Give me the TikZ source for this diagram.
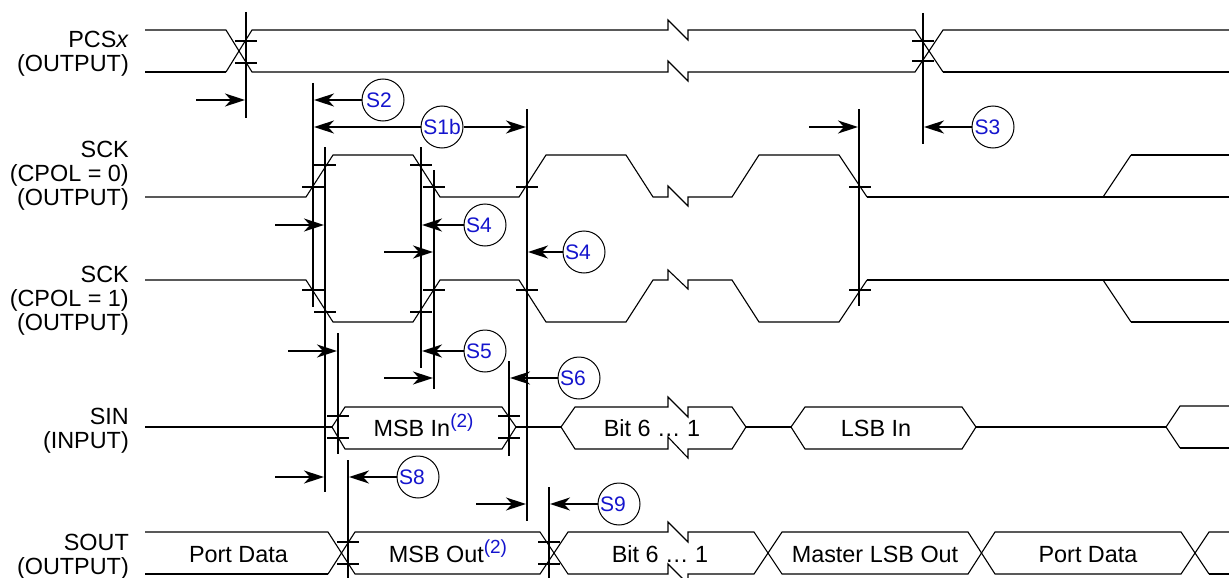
\documentclass[tikz,border=0pt]{standalone}
\usepackage{fontspec}
\setmainfont{Liberation Sans}
\usepackage{xcolor}
\usetikzlibrary{arrows.meta}
\definecolor{tagblue}{RGB}{20,20,205}
\newcommand{\sigfont}{\fontsize{23.4}{24}\selectfont}
\newcommand{\noteref}{\raisebox{9pt}{\fontsize{19}{19}\selectfont\color{tagblue}(2)}}

\begin{document}
\begin{tikzpicture}[x=1pt, y=-1pt, >={Stealth[length=20pt, width=13pt, inset=6pt]}]
    \tikzset{
        wave/.style={draw, line width=1.1pt, line join=miter},
        wavethick/.style={draw, line width=1.7pt},
        marker/.style={draw, line width=1.7pt},
        dimline/.style={draw, ->, line width=1.7pt},
        tagnode/.style={draw, circle, line width=1pt, minimum size=42pt, inner sep=0pt, text=tagblue, fill=white, font=\fontsize{21}{21}\selectfont},
        signame/.style={align=right, anchor=north east, inner sep=0pt, font=\sigfont},
        datatext/.style={anchor=base, inner sep=0pt, font=\sigfont}
    }
    \useasboundingbox (0,0) rectangle (1229,578);
    \clip (0,0) rectangle (1229,578);

    % signal names
    \node[signame] (pcsname) at (129,31) {PCS\textit{x}\\(OUTPUT)};
    \node[signame] (sckaname) at (129,141) {SCK\\(CPOL = 0)\\(OUTPUT)};
    \node[signame] (sckbname) at (129,266) {SCK\\(CPOL = 1)\\(OUTPUT)};
    \node[signame] (sinname) at (129,408) {SIN\\(INPUT)};
    \node[signame] (soutname) at (129,534) {SOUT\\(OUTPUT)};

    % PCS wave
    \draw[wave] (145,30) -- (226,30) -- (252,72) -- (668,72) -- (668,61) -- (688,81) -- (688,72) -- (915,72) -- (943,30) -- (1229,30);
    \draw[wave] (226,72) -- (252,30) -- (668,30) -- (668,20) -- (688,40) -- (688,30) -- (915,30) -- (943,72);
    \draw[wavethick] (145,72) -- (226,72);
    \draw[wavethick] (943,72) -- (1229,72);

    % SCK wave, CPOL = 0
    \draw[wave] (145,197) -- (306,197) -- (333,155) -- (413,155) -- (440,197) -- (519,197) -- (546,155) -- (626,155) -- (653,197) -- (668,197) -- (668,186) -- (688,206) -- (688,197) -- (732,197) -- (759,155) -- (839,155) -- (867,197);
    \draw[wavethick] (867,197) -- (1229,197);
    \draw[wave] (1103,197) -- (1131,155);
    \draw[wavethick] (1131,155) -- (1229,155);

    % SCK wave, CPOL = 1
    \draw[wave] (145,280) -- (306,280) -- (333,322) -- (413,322) -- (440,280) -- (519,280) -- (546,322) -- (626,322) -- (653,280) -- (668,280) -- (668,270) -- (688,289) -- (688,280) -- (732,280) -- (759,322) -- (839,322) -- (867,280);
    \draw[wavethick] (867,280) -- (1229,280);
    \draw[wave] (1103,280) -- (1131,322);
    \draw[wavethick] (1131,322) -- (1229,322);

    % SIN wave
    \draw[wavethick] (145,427) -- (332,427);
    \draw[wave] (332,427) -- (345,407) -- (502,407) -- (516,427) -- (502,449) -- (345,449) -- cycle;
    \draw[wavethick] (516,427) -- (561,427);
    \draw[wave] (668,407) -- (575,407) -- (561,427) -- (575,449) -- (668,449) -- (668,437) -- (688,458) -- (688,449) -- (732,449) -- (746,427) -- (732,407) -- (688,407) -- (688,417) -- (668,397) -- cycle;
    \draw[wavethick] (746,427) -- (791,427);
    \draw[wave] (791,427) -- (805,407) -- (962,407) -- (976,427) -- (962,449) -- (805,449) -- cycle;
    \draw[wavethick] (976,427) -- (1166,427);
    \draw[wave] (1229,406) -- (1180,406) -- (1166,427) -- (1180,448);
    \draw[wavethick] (1180,448) -- (1229,448);

    % SOUT wave
    \draw[wave] (145,532) -- (328,532) -- (355,574) -- (540,574) -- (568,532) -- (668,532) -- (668,522) -- (688,542) -- (688,532) -- (754,532) -- (782,574) -- (968,574) -- (995,532) -- (1181,532) -- (1209,574);
    \draw[wavethick] (145,574) -- (328,574);
    \draw[wave] (328,574) -- (355,532) -- (540,532) -- (568,574) -- (668,574) -- (668,564) -- (688,584) -- (688,574) -- (754,574) -- (782,532) -- (968,532) -- (995,574) -- (1181,574) -- (1209,532) -- (1229,532);
    \draw[wavethick] (1209,574) -- (1229,574);

    % data labels
    \node[datatext] (msbin) at (423.5,436) {MSB In\noteref};
    \node[datatext] (bitin) at (652,436) {Bit 6 … 1};
    \node[datatext] (lsbin) at (876,436) {LSB In};
    \node[datatext] (portdataa) at (238.5,562) {Port Data};
    \node[datatext] (msbout) at (448,562) {MSB Out\noteref};
    \node[datatext] (bitout) at (660,562) {Bit 6 … 1};
    \node[datatext] (lsbout) at (875,562) {Master LSB Out};
    \node[datatext] (portdatab) at (1088,562) {Port Data};

    % vertical timing lines
    \foreach \x/\ya/\yb in {246/12/118, 313/83/307, 325/147/492, 338/333/454, 348/460/578, 421/147/368,
                            434/170/389, 509/361/456, 527/109/521, 549/487/578, 859/109/306, 923/13/144}
        \draw[marker] (\x,\ya) -- (\x,\yb);

    % threshold ticks
    \foreach \xa/\xb/\y in {235/257/41, 235/257/63, 912/934/41, 912/934/61,
                            313/336/165, 302/324/187, 410/432/165, 423/445/187, 516/538/187, 849/871/187,
                            302/324/290, 423/445/290, 516/538/290, 849/871/290, 314/336/312, 410/432/312,
                            327/349/416, 327/349/438, 498/520/416, 498/520/438,
                            337/359/542, 337/359/564, 538/560/542, 538/560/564}
        \draw[marker] (\xa,\y) -- (\xb,\y);

    % free arrows
    \foreach \n/\xa/\xb/\y in {a/196/245/100, b/275/324/225, c/384/433/252, d/288/337/351, e/384/433/378,
                               f/275/324/477, g/476/526/504, h/809/858/127}{
        \coordinate (from\n) at (\xa,\y);
        \coordinate (to\n) at (\xb,\y);
        \draw[dimline] (from\n) -- (to\n);
    }

    % tags with their arrows
    \node[tagnode] (stwo) at (383,100) {S2\kern8pt};
    \node[tagnode] (soneb) at (442,127) {S1b};
    \node[tagnode] (sthree) at (993,127) {S3\kern11pt};
    \node[tagnode] (sfoura) at (485,225) {S4\kern12pt};
    \node[tagnode] (sfourb) at (584,252) {S4\kern12pt};
    \node[tagnode] (sfive) at (485,351) {S5\kern12pt};
    \node[tagnode] (ssix) at (579,378) {S6\kern12pt};
    \node[tagnode] (seight) at (418,477) {S8\kern12pt};
    \node[tagnode] (snine) at (619,504) {S9\kern12pt};

    \coordinate (endtwo) at (314,100);
    \coordinate (endoneleft) at (314,127);
    \coordinate (endoneright) at (526,127);
    \coordinate (endthree) at (924,127);
    \coordinate (endfoura) at (422,225);
    \coordinate (endfourb) at (528,252);
    \coordinate (endfive) at (422,351);
    \coordinate (endsix) at (510,378);
    \coordinate (endeight) at (349,477);
    \coordinate (endnine) at (550,504);

    \draw[dimline] (stwo) -- (endtwo);
    \draw[dimline] (soneb) -- (endoneleft);
    \draw[dimline] (soneb) -- (endoneright);
    \draw[dimline] (sthree) -- (endthree);
    \draw[dimline] (sfoura) -- (endfoura);
    \draw[dimline] (sfourb) -- (endfourb);
    \draw[dimline] (sfive) -- (endfive);
    \draw[dimline] (ssix) -- (endsix);
    \draw[dimline] (seight) -- (endeight);
    \draw[dimline] (snine) -- (endnine);
\end{tikzpicture}
\end{document}
